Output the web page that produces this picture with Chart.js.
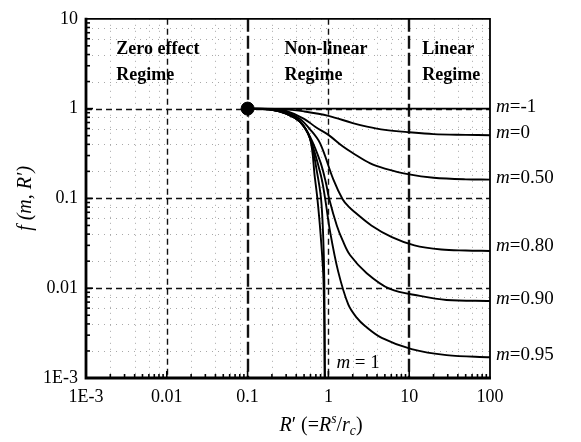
<!DOCTYPE html>
<html>
<head>
<meta charset="utf-8">
<script src="https://cdn.jsdelivr.net/npm/chart.js@4"></script>
<style>
  html, body { margin: 0; padding: 0; background: #fff; }
  canvas { display: block; }
</style>
</head>
<body>
<canvas id="chart" width="581" height="442"></canvas>
<script>
// axis ticks
const xTickValues = [0.001, 0.01, 0.1, 1, 10, 100];
const xTickLabels = ['1E-3', '0.01', '0.1', '1', '10', '100'];
const yTickValues = [0.001, 0.01, 0.1, 1, 10];
const yTickLabels = ['1E-3', '0.01', '0.1', '1', '10'];

// regimes
const regimeBounds = [0.1, 10];
const regimeTitles = [['Zero effect', 'Regime'], ['Non-linear', 'Regime'], ['Linear', 'Regime']];

// starting point
const startPoint = [0.1, 1];

// curves f(m, R')
const seriesM = ['-1', '0', '0.50', '0.80', '0.90', '0.95', '0.99', '1'];

const rMm1 = [0.1, 100];
const fMm1 = [1, 1];

const rM0 = [0.1, 0.3, 0.5, 1, 2, 3, 5, 10, 20, 50, 100];
const fM0 = [1, 0.98, 0.93, 0.83, 0.69, 0.63, 0.58, 0.545, 0.52, 0.51, 0.505];

const rM50 = [0.1, 0.2, 0.3, 0.5, 0.7, 1, 1.5, 2, 3.3, 5, 10, 20, 50, 100];
const fM50 = [1, 0.99, 0.94, 0.77, 0.62, 0.51, 0.38, 0.32, 0.245, 0.215, 0.185, 0.17, 0.163, 0.162];

const rM80 = [0.1, 0.2, 0.3, 0.44, 0.6, 0.79, 1.15, 1.5, 1.78, 2.13, 3.4, 6.1, 11.6, 25, 50, 100];
const fM80 = [1, 0.98, 0.91, 0.77, 0.58, 0.41, 0.163, 0.098, 0.081, 0.07, 0.05, 0.037, 0.030, 0.027, 0.0263, 0.026];

const rM90 = [0.1, 0.2, 0.3, 0.44, 0.59, 0.8, 0.93, 1.02, 1.27, 1.5, 1.85, 2.98, 5.78, 13.6, 29, 100];
const fM90 = [1, 0.97, 0.89, 0.73, 0.49, 0.25, 0.15, 0.1, 0.05, 0.034, 0.0234, 0.0147, 0.0098, 0.0082, 0.0074, 0.0072];

const rM95 = [0.1, 0.2, 0.3, 0.44, 0.59, 0.81, 0.91, 1.05, 1.32, 1.76, 2.24, 2.84, 4.57, 10.7, 29, 100];
const fM95 = [1, 0.97, 0.88, 0.72, 0.47, 0.178, 0.1, 0.0425, 0.0154, 0.0066, 0.0047, 0.0038, 0.0028, 0.0021, 0.0018, 0.0017];

const rM99 = [0.1, 0.2, 0.3, 0.44, 0.59, 0.72, 0.81, 0.86, 0.89, 0.905];
const fM99 = [1, 0.97, 0.88, 0.72, 0.47, 0.2, 0.1, 0.04, 0.012, 0.001];

const rM1 = [0.1, 0.2, 0.3, 0.44, 0.59, 0.68, 0.73, 0.8, 0.87, 0.9];
const fM1 = [1, 0.97, 0.88, 0.72, 0.47, 0.17, 0.1, 0.04, 0.012, 0.001];

const curveR = [rMm1, rM0, rM50, rM80, rM90, rM95, rM99, rM1];
const curveF = [fMm1, fM0, fM50, fM80, fM90, fM95, fM99, fM1];

const SERIF = '"Liberation Serif", "DejaVu Serif", serif';

function tickLabel(values, labels, v) {
  const i = values.findIndex(t => Math.abs(t - v) / t < 1e-6);
  return i >= 0 ? labels[i] : '';
}

// draws pieces of mixed italic / plain text, with optional sub/superscript
function drawRich(ctx, parts, x, y, size) {
  let cx = x;
  parts.forEach(p => {
    const s = p.sub || p.sup ? size * 0.68 : size;
    ctx.font = (p.it ? 'italic ' : '') + s + 'px ' + SERIF;
    const dy = p.sup ? -size * 0.38 : p.sub ? size * 0.22 : 0;
    ctx.fillText(p.t, cx, y + dy);
    cx += ctx.measureText(p.t).width;
  });
  return cx - x;
}

function richWidth(ctx, parts, size) {
  let w = 0;
  parts.forEach(p => {
    const s = p.sub || p.sup ? size * 0.68 : size;
    ctx.font = (p.it ? 'italic ' : '') + s + 'px ' + SERIF;
    w += ctx.measureText(p.t).width;
  });
  return w;
}

const decorPlugin = {
  id: 'decor',
  beforeDatasetsDraw(chart) {
    const { ctx, chartArea: a } = chart;
    const xs = chart.scales.x, ys = chart.scales.y;
    ctx.save();

    // minor dotted grid
    ctx.strokeStyle = '#a8a8a8';
    ctx.lineWidth = 1;
    ctx.setLineDash([1, 5]);
    for (let d = -3; d <= 1; d++) {
      [2, 4, 6, 8].forEach(k => {
        const px = Math.round(xs.getPixelForValue(k * Math.pow(10, d))) + 0.5;
        ctx.beginPath(); ctx.moveTo(px, a.top); ctx.lineTo(px, a.bottom); ctx.stroke();
      });
    }
    for (let d = -3; d <= 0; d++) {
      [2, 4, 6, 8].forEach(k => {
        const py = Math.round(ys.getPixelForValue(k * Math.pow(10, d))) + 0.5;
        ctx.beginPath(); ctx.moveTo(a.left, py); ctx.lineTo(a.right, py); ctx.stroke();
      });
    }

    // major dashed grid
    ctx.strokeStyle = '#111';
    ctx.lineWidth = 1.4;
    ctx.setLineDash([6, 4]);
    yTickValues.slice(1, -1).forEach(v => {
      const py = Math.round(ys.getPixelForValue(v)) + 0.5;
      ctx.beginPath(); ctx.moveTo(a.left, py); ctx.lineTo(a.right, py); ctx.stroke();
    });
    xTickValues.slice(1, -1).filter(v => !regimeBounds.includes(v)).forEach(v => {
      const px = Math.round(xs.getPixelForValue(v)) + 0.5;
      ctx.beginPath(); ctx.moveTo(px, a.top); ctx.lineTo(px, a.bottom); ctx.stroke();
    });

    // regime boundaries
    ctx.lineWidth = 2.4;
    ctx.setLineDash([13, 4]);
    regimeBounds.forEach(v => {
      const px = Math.round(xs.getPixelForValue(v));
      ctx.beginPath(); ctx.moveTo(px, a.top); ctx.lineTo(px, a.bottom); ctx.stroke();
    });
    ctx.setLineDash([]);

    // regime titles
    ctx.fillStyle = '#000';
    ctx.font = 'bold 18px ' + SERIF;
    ctx.textBaseline = 'alphabetic';
    ctx.textAlign = 'left';
    const lefts = [xs.getPixelForValue(0.002) + 6, xs.getPixelForValue(0.1) + 37, xs.getPixelForValue(10) + 13];
    regimeTitles.forEach((lines, i) => {
      lines.forEach((t, j) => ctx.fillText(t, lefts[i], a.top + 35 + j * 26));
    });
    ctx.restore();
  },
  afterDatasetsDraw(chart) {
    const { ctx, chartArea: a } = chart;
    const xs = chart.scales.x, ys = chart.scales.y;
    ctx.save();
    ctx.strokeStyle = '#000';
    ctx.fillStyle = '#000';

    // frame
    ctx.lineWidth = 1.8;
    ctx.beginPath();
    ctx.moveTo(a.left, a.top); ctx.lineTo(a.right, a.top); ctx.lineTo(a.right, a.bottom);
    ctx.stroke();
    ctx.lineWidth = 2.8;
    ctx.beginPath();
    ctx.moveTo(a.left, a.top - 1); ctx.lineTo(a.left, a.bottom); ctx.lineTo(a.right + 1, a.bottom);
    ctx.stroke();

    // tick marks, inward
    ctx.lineWidth = 1.6;
    for (let d = -3; d <= 1; d++) {
      for (let k = 1; k <= 9; k++) {
        const px = xs.getPixelForValue(k * Math.pow(10, d));
        const len = k === 1 ? 7 : 4;
        ctx.beginPath(); ctx.moveTo(px, a.bottom); ctx.lineTo(px, a.bottom - len); ctx.stroke();
      }
    }
    for (let d = -3; d <= 0; d++) {
      for (let k = 1; k <= 9; k++) {
        const py = ys.getPixelForValue(k * Math.pow(10, d));
        const len = k === 1 ? 7 : 4;
        ctx.beginPath(); ctx.moveTo(a.left, py); ctx.lineTo(a.left + len, py); ctx.stroke();
      }
    }

    // curve labels on the right
    ctx.textBaseline = 'middle';
    ctx.textAlign = 'left';
    [0, 1, 2, 3, 4, 5].forEach(i => {
      const f = curveF[i];
      const py = ys.getPixelForValue(f[f.length - 1]) - (i === 3 ? 5 : 2);
      drawRich(ctx, [{ t: 'm', it: true }, { t: '=' + seriesM[i] }], a.right + 6, py, 19);
    });

    // m = 1 label inside
    const py1 = ys.getPixelForValue(0.0017) + 6;
    drawRich(ctx, [{ t: 'm', it: true }, { t: ' = 1' }], xs.getPixelForValue(1) + 8, py1, 19);

    // x axis title
    ctx.textBaseline = 'alphabetic';
    const parts = [
      { t: 'R', it: true }, { t: '′ (=' }, { t: 'R', it: true }, { t: 's', it: true, sup: true },
      { t: '/' }, { t: 'r', it: true }, { t: 'c', it: true, sub: true }, { t: ')' }
    ];
    const w = richWidth(ctx, parts, 20);
    drawRich(ctx, parts, (a.left + a.right) / 2 + 33 - w / 2, a.bottom + 53, 20);
    ctx.restore();
  }
};

const curveSets = curveR.map((r, i) => ({
  label: 'm=' + seriesM[i],
  data: r.map((x, j) => ({ x: x, y: curveF[i][j] })),
  borderColor: '#000',
  borderWidth: i === 0 ? 1.6 : 1.9,
  pointRadius: 0,
  fill: false,
  tension: 0.35
}));

new Chart(document.getElementById('chart').getContext('2d'), {
  type: 'line',
  data: {
    datasets: [
      ...curveSets,
      {
        label: 'start',
        data: [{ x: startPoint[0], y: startPoint[1] }],
        showLine: false,
        pointRadius: 6.5,
        pointBackgroundColor: '#000',
        pointBorderColor: '#000'
      }
    ]
  },
  options: {
    responsive: false,
    animation: false,
    layout: { padding: { left: 0, top: 14, right: 91, bottom: 0 } },
    plugins: { legend: { display: false }, tooltip: { enabled: false } },
    scales: {
      x: {
        type: 'logarithmic',
        min: 0.001,
        max: 100,
        afterBuildTicks: s => { s.ticks = xTickValues.map(v => ({ value: v })); },
        afterFit: s => { s.height = 64; },
        grid: { display: false, drawTicks: false },
        border: { display: false },
        ticks: {
          autoSkip: false,
          maxRotation: 0,
          padding: 8,
          color: '#000',
          font: { family: SERIF, size: 18 },
          callback: v => tickLabel(xTickValues, xTickLabels, v)
        }
      },
      y: {
        type: 'logarithmic',
        min: 0.001,
        max: 10,
        afterBuildTicks: s => { s.ticks = yTickValues.map(v => ({ value: v })); },
        afterFit: s => { s.width = 86; },
        grid: { display: false, drawTicks: false },
        border: { display: false },
        ticks: {
          autoSkip: false,
          padding: 8,
          color: '#000',
          font: { family: SERIF, size: 18 },
          callback: v => tickLabel(yTickValues, yTickLabels, v)
        },
        title: {
          display: true,
          text: 'f (m, R′)',
          color: '#000',
          padding: { top: 14, bottom: 0 },
          font: { family: SERIF, size: 20, style: 'italic' }
        }
      }
    }
  },
  plugins: [decorPlugin]
});
</script>
</body>
</html>
